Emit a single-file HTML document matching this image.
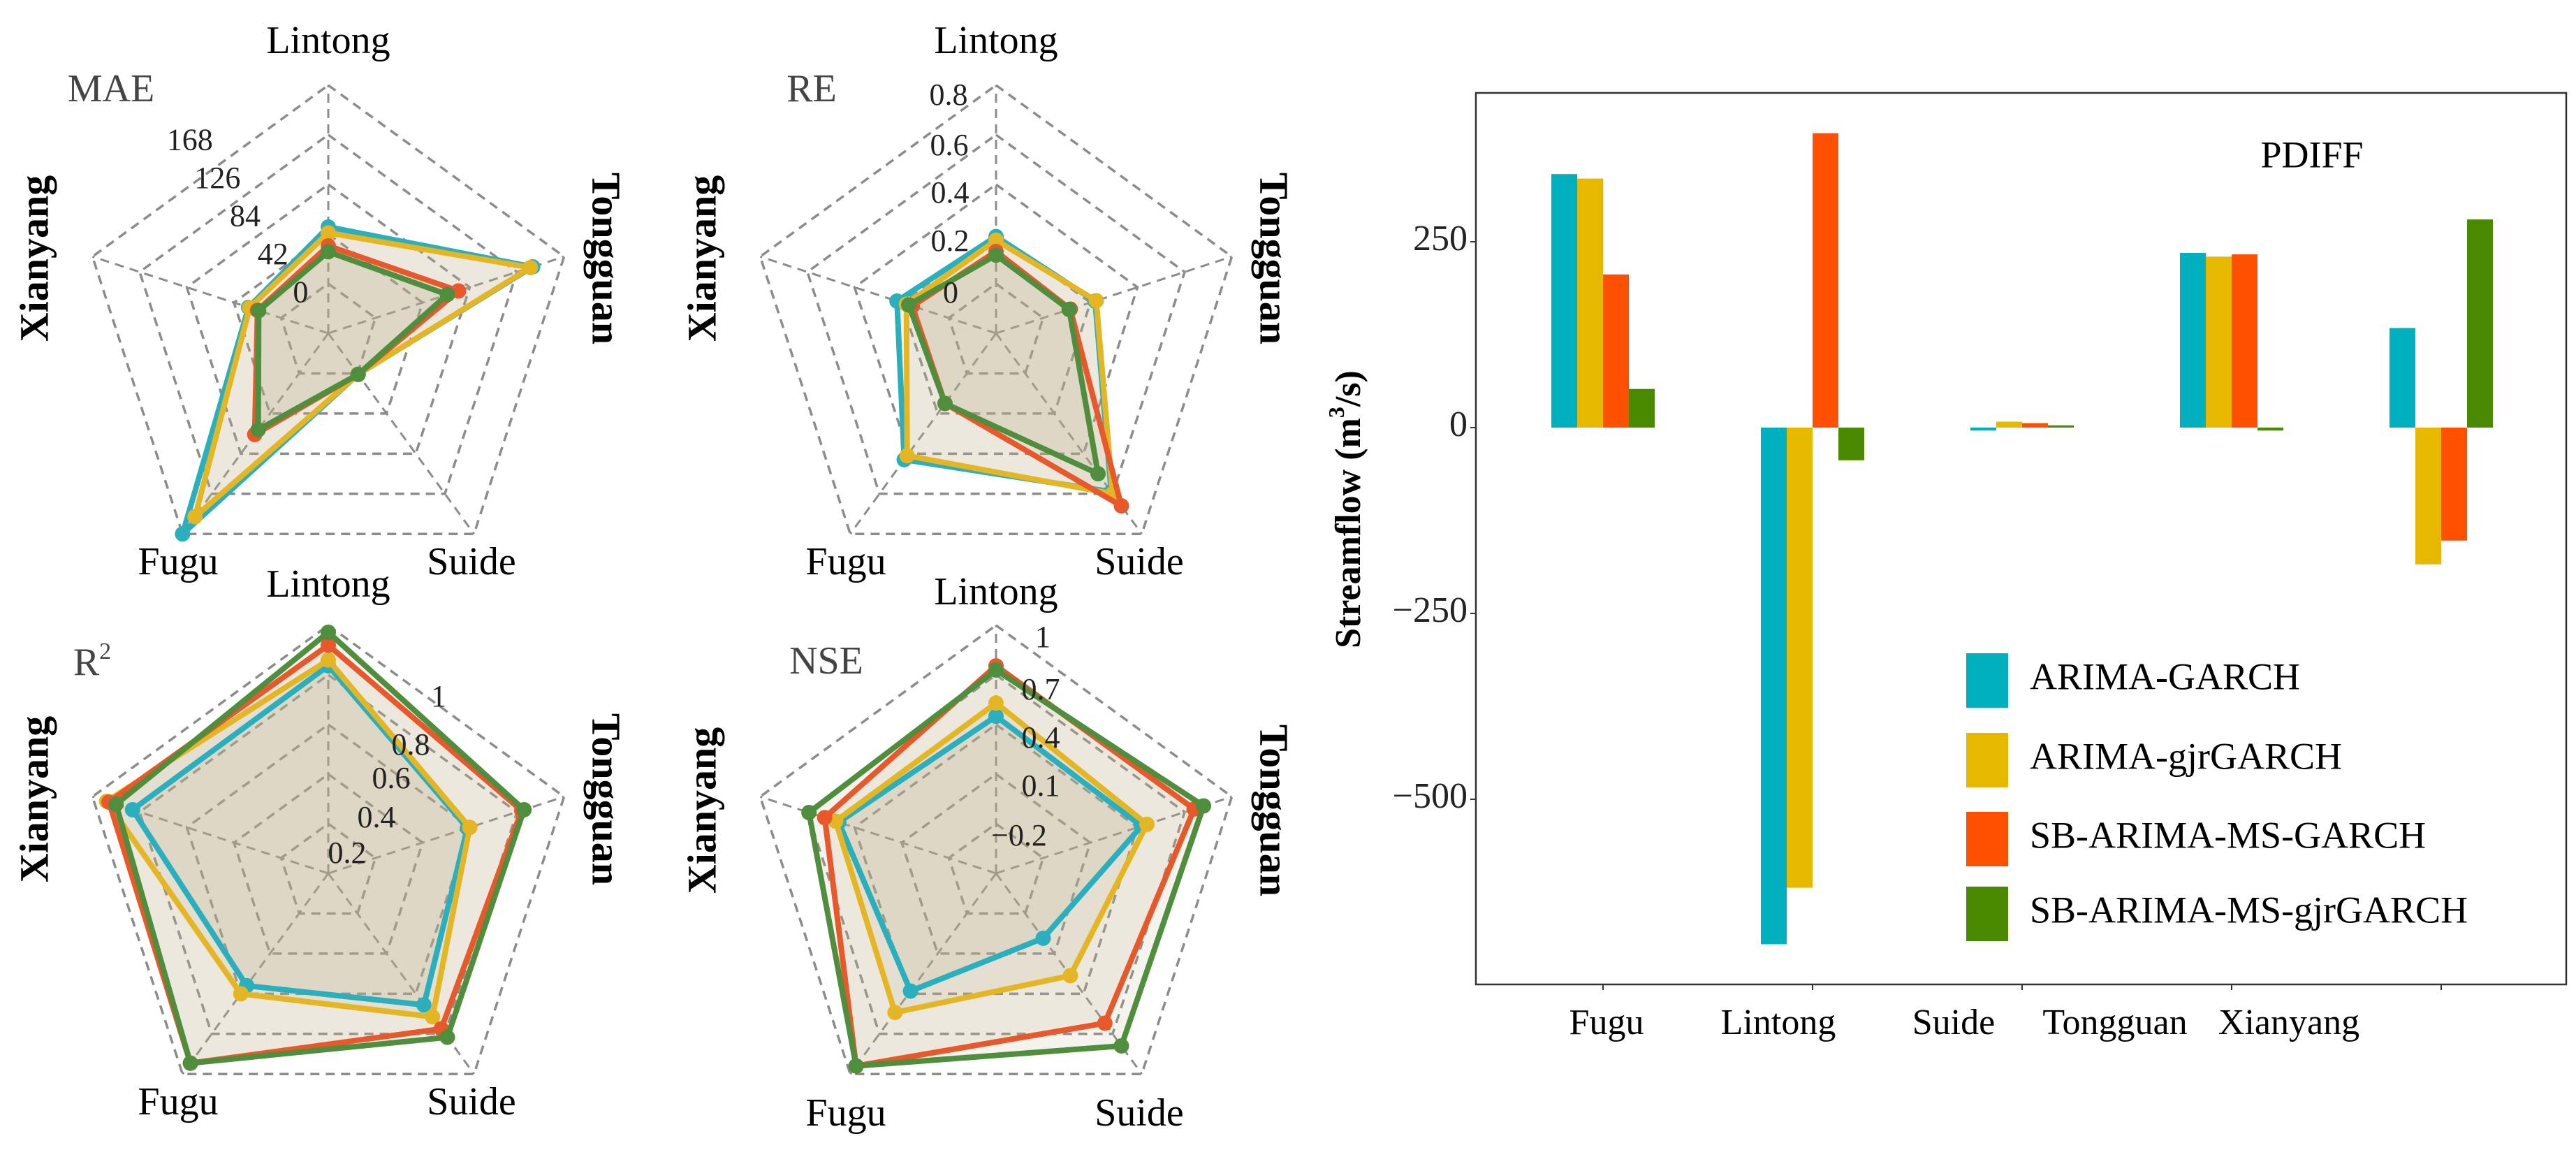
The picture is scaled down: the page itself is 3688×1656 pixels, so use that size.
<!DOCTYPE html>
<html><head><meta charset="utf-8"><style>
html,body{margin:0;padding:0;background:#fff}
svg{display:block}
text{font-family:"Liberation Serif",serif}
</style></head><body>
<svg id="fig" xmlns="http://www.w3.org/2000/svg" width="3688" height="1656" viewBox="0 0 3688 1656">
<g id="radars"></g>
<g id="bars"></g>
</svg>
<script>
// ---------- data ----------
const stations = ["Lintong","Tongguan","Suide","Fugu","Xianyang"];
const seriesNames = ["ARIMA-GARCH","ARIMA-gjrGARCH","SB-ARIMA-MS-GARCH","SB-ARIMA-MS-gjrGARCH"];
// radar values, order: Lintong, Tongguan, Suide, Fugu, Xianyang
const maeArimaGarch = [48, 140, 1, 168, 29];
const maeArimaGjr = [43, 138, 1, 150, 28];
const maeSbGarch = [32, 74, 1, 64, 21];
const maeSbGjr = [27, 64, 1, 59, 20];
const maeTicks = [0, 42, 84, 126, 168];
const reArimaGarch = [0.19, 0.22, 0.59, 0.43, 0.22];
const reArimaGjr = [0.175, 0.225, 0.6, 0.41, 0.18];
const reSbGarch = [0.13, 0.115, 0.66, 0.15, 0.155];
const reSbGjr = [0.115, 0.11, 0.5, 0.15, 0.17];
const reTicks = [0, 0.2, 0.4, 0.6, 0.8];
const r2ArimaGarch = [0.837, 0.59, 0.656, 0.56, 0.83];
const r2ArimaGjr = [0.86, 0.6, 0.715, 0.6, 0.94];
const r2SbGarch = [0.92, 0.82, 0.775, 0.946, 0.93];
const r2SbGjr = [0.972, 0.83, 0.817, 0.946, 0.9];
const r2Ticks = [0.2, 0.4, 0.6, 0.8, 1];
const nseArimaGarch = [0.45, 0.425, -0.015, 0.38, 0.5];
const nseArimaGjr = [0.53, 0.46, 0.265, 0.54, 0.52];
const nseSbGarch = [0.755, 0.76, 0.62, 0.94, 0.59];
const nseSbGjr = [0.73, 0.82, 0.79, 0.94, 0.69];
const nseTicks = [-0.2, 0.1, 0.4, 0.7, 1];
// bar chart
const barCategories = ["Fugu","Lintong","Suide","Tongguan","Xianyang"];
const pdiffArimaGarch = [341, -695, -4, 235, 134];
const pdiffArimaGjr = [335, -619, 8, 230, -184];
const pdiffSbGarch = [206, 396, 6, 233, -152];
const pdiffSbGjr = [52, -44, 3, -4, 280];
const barTicks = [250, 0, -250, -500];
const barTickLabels = ["250","0","\u2212250","\u2212500"];

const NS="http://www.w3.org/2000/svg";
function mk(tag,attrs,parent){const e=document.createElementNS(NS,tag);for(const k in attrs)e.setAttribute(k,attrs[k]);parent.appendChild(e);return e;}

const radarColors=["#2AAFBF","#E5B623","#E8582A","#4F8E3C"];
const R0=71,R1=355;
function radar(parent,cx,cy,name,title,titlePos,series,ticks,tickPos,labelPos){
  const g=mk("g",{},parent);
  
  
  const vmin=ticks[0],vmax=ticks[ticks.length-1];
  const rOf=v=>R0+(v-vmin)/(vmax-vmin)*(R1-R0);
  const pt=(i,r)=>{const a=i*2*Math.PI/5;return [cx+r*Math.sin(a),cy-r*Math.cos(a)];};
  for(let k=0;k<5;k++){
    const r=R0+k*(R1-R0)/4;
    const p=[0,1,2,3,4].map(i=>pt(i,r).join(",")).join(" ");
    const ring=mk("polygon",{points:p,fill:"none",stroke:"#8c8c8c","stroke-width":3.5,"stroke-dasharray":"13 9"},g);
    
    
  }
  for(let i=0;i<5;i++){
    const [x,y]=pt(i,R1);
    const sp=mk("line",{x1:cx,y1:cy,x2:x,y2:y,stroke:"#8c8c8c","stroke-width":3,"stroke-dasharray":"13 9"},g);
    
    
  }
  series.forEach((vals,s)=>{
    const p=vals.map((v,i)=>pt(i,rOf(v)).join(",")).join(" ");
    const f=mk("polygon",{points:p,fill:"#BDB086","fill-opacity":0.15,stroke:"none"},g);
    
    
  });
  series.forEach((vals,s)=>{
    const p=vals.map((v,i)=>pt(i,rOf(v)).join(",")).join(" ");
    const l=mk("polygon",{points:p,fill:"none",stroke:radarColors[s],"stroke-width":8,"stroke-linejoin":"round"},g);
    
    
    vals.forEach((v,i)=>{const [x,y]=pt(i,rOf(v));
      const c=mk("circle",{cx:x,cy:y,r:11,fill:radarColors[s]},g);
      
      });
  });
  ticks.forEach((t,k)=>{
    const [dx,dy]=tickPos[k];
    const tx=mk("text",{x:cx+dx,y:cy+dy,"font-size":44,"text-anchor":"middle","dominant-baseline":"middle",fill:"#222"},g);
    tx.textContent=(t<0?"\u2212"+Math.abs(t):String(t));
    
    
  });
  const tt=mk("text",{x:titlePos[0],y:titlePos[1],"font-size":56,"text-anchor":"middle","dominant-baseline":"middle",fill:"#444"},g);
  if(title==="R2"){tt.textContent="R";const sp=mk("tspan",{"font-size":34,dy:-18},tt);sp.textContent="2";}
  else tt.textContent=title;
  
  
  const L=labelPos;
  const mkLab=(txt,x,y,rot,bold)=>{
    const t=mk("text",{x:x,y:y,"font-size":bold?58:56,"text-anchor":"middle","dominant-baseline":"middle",fill:"#000","font-weight":bold?"bold":"normal",transform:rot?`rotate(${rot} ${x} ${y})`:""},g);
    t.textContent=txt;
    
    
  };
  mkLab(stations[0],cx,cy+L.top,0,false);
  mkLab(stations[1],cx+392,cy+L.side,90,true);
  mkLab(stations[2],cx+205,cy+L.bottom,0,false);
  mkLab(stations[3],cx-215,cy+L.bottom,0,false);
  mkLab(stations[4],cx-415,cy+L.side,-90,true);
}
const rg=document.getElementById("radars");
const bis=[0,1,2,3,4].map(k=>{const r=(R0+k*71)*0.95,a=-36*Math.PI/180;return [r*Math.sin(a),-r*Math.cos(a)];});
radar(rg,470,477,"mae","MAE",[159,132],[maeArimaGarch,maeArimaGjr,maeSbGarch,maeSbGjr],maeTicks,bis,{top:-414,side:-107,bottom:332});
radar(rg,1426,477,"re","RE",[1162,132],[reArimaGarch,reArimaGjr,reSbGarch,reSbGjr],reTicks,
  [[-65,-54],[-66,-128],[-66,-197],[-67,-265],[-68,-337]],{top:-414,side:-107,bottom:332});
radar(rg,470,1250,"r2","R2",[132,953],[r2ArimaGarch,r2ArimaGjr,r2SbGarch,r2SbGjr],r2Ticks,
  [[27,-25],[69,-76],[90,-132],[118,-180],[158,-249]],{top:-409,side:-106,bottom:332});
radar(rg,1426,1250,"nse","NSE",[1183,951],[nseArimaGarch,nseArimaGjr,nseSbGarch,nseSbGjr],nseTicks,
  [[33,-50],[64,-121],[64,-190],[64,-259],[67,-334]],{top:-398,side:-90,bottom:348});

// ---------- bar chart ----------
const bg=document.getElementById("bars");
const PL=2113,PR=3674,PT=133,PB=1409;
const y0=612,ppu=1.064;
const yS=v=>y0-v*ppu;
const xC=i=>2295+i*300;
const barColors=["#00B0BF","#E6B800","#FF4F00","#4A8A00"];
const barW=37;
const frame=mk("rect",{x:PL,y:PT,width:PR-PL,height:PB-PT,fill:"none",stroke:"#333","stroke-width":2.5},bg);


[pdiffArimaGarch,pdiffArimaGjr,pdiffSbGarch,pdiffSbGjr].forEach((vals,s)=>{
  vals.forEach((v,i)=>{
    const x=xC(i)-2*barW+s*barW;
    const yA=Math.min(yS(v),y0),h=Math.abs(yS(v)-y0);
    const b=mk("rect",{x:x,y:yA,width:barW,height:Math.max(h,3),fill:barColors[s]},bg);
    
    
  });
});
barTicks.forEach((t,k)=>{
  const y=yS(t);
  const tk=mk("line",{x1:PL-8,y1:y,x2:PL,y2:y,stroke:"#333","stroke-width":2},bg);
  
  
  const tx=mk("text",{x:PL-12,y:y,"font-size":52,"text-anchor":"end","dominant-baseline":"middle",fill:"#222"},bg);
  tx.textContent=barTickLabels[k];
  
  
});
const labX=[2300,2546,2797,3028,3277];
barCategories.forEach((c,i)=>{
  const tk=mk("line",{x1:xC(i),y1:PB,x2:xC(i),y2:PB+8,stroke:"#333","stroke-width":2},bg);
  
  
  const tx=mk("text",{x:labX[i],y:1468,"font-size":52,"text-anchor":"middle","dominant-baseline":"middle",fill:"#000"},bg);
  tx.textContent=c;
  
  
});
const yt=mk("text",{x:1935,y:729,"font-size":52,"text-anchor":"middle","dominant-baseline":"middle",fill:"#000","font-weight":"bold",transform:"rotate(-90 1935 729)"},bg);
yt.innerHTML='Streamflow (m<tspan font-size="32" dy="-18">3</tspan><tspan dy="18">/s)</tspan>';


const pt2=mk("text",{x:3310,y:227,"font-size":54,"text-anchor":"middle","dominant-baseline":"middle",fill:"#000"},bg);
pt2.textContent="PDIFF";


const legY=[974,1088,1201,1308];
seriesNames.forEach((n,s)=>{
  const sq=mk("rect",{x:2815,y:legY[s]-39,width:60,height:78,fill:barColors[s]},bg);
  
  
  const tx=mk("text",{x:2906,y:legY[s],"font-size":54,"dominant-baseline":"middle",fill:"#000"},bg);
  tx.textContent=n;
  
  
});
</script>
</body></html>
